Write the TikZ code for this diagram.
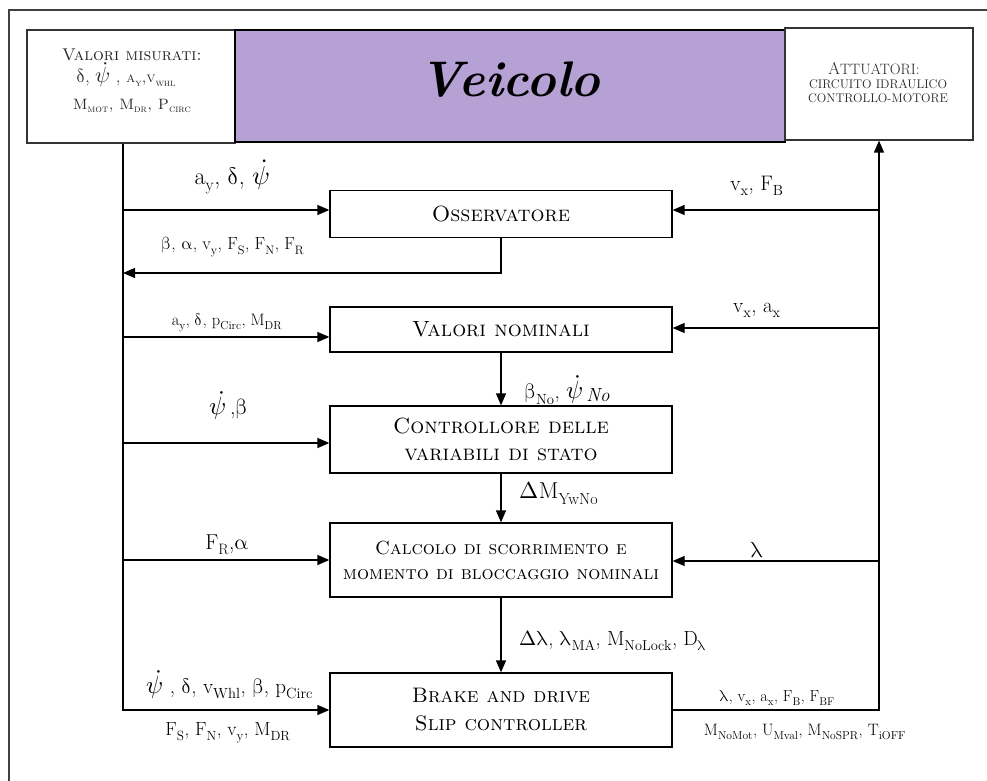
\documentclass[tikz,border=0pt]{standalone}
\usepackage{fontspec}
\usepackage{unicode-math}
\usetikzlibrary{arrows.meta}
\newcommand\G[1]{$\symup{#1}$}
\newcommand\sbs[1]{\textsubscript{#1}}
\newcommand\fsz[1]{\fontsize{#1}{#1}\selectfont}
\newcommand\pd{$\dot{\psi}$}
\definecolor{vpurple}{RGB}{181,161,212}
\begin{document}
\begin{tikzpicture}[x=1pt,y=-1pt,line width=1.3pt,
  blk/.style={draw,line width=1.3pt,inner sep=0pt,align=center,minimum width=342pt,font=\fontsize{22}{27}\selectfont\scshape},
  arr/.style={-{Triangle[length=12pt,width=10pt]}},
  lab/.style={inner sep=0pt,anchor=center}]
\useasboundingbox (0,0) rectangle (987,781);
\fill[white] (0,0) rectangle (987,781);
% outer frame (partial, as scanned)
\draw[line width=1.2pt,black!75] (9,781) -- (9,10) -- (987,10);
% top boxes
\node[draw,line width=1.2pt,black!80,minimum width=208pt,minimum height=113pt,inner sep=0pt] (misur) at (131,86.5) {};
\node[draw,line width=2pt,fill=vpurple,minimum width=550pt,minimum height=112pt,inner sep=0pt] (veic) at (510,86) {};
\node[draw,line width=1.2pt,black!80,minimum width=188pt,minimum height=112pt,inner sep=0pt] (attu) at (879,84) {};
\node[lab,font=\bfseries\itshape\fsz{50}] (veict) at (510,80) {Veicolo};
\node[lab,font=\fsz{17}\scshape,text=black!85] (mis1) at (132,55) {Valori misurati:};
\node[lab,font=\fsz{19},text=black!85] (mis2) at (126,75) {\G{δ}, {\fsz{22}\pd} , {\fsz{14.5}\scshape a\sbs{y},v\sbs{whl}}};
\node[lab,font=\fsz{15}\scshape,text=black!85] (mis3) at (132,106) {M\sbs{mot}, M\sbs{dr}, P\sbs{circ}};
\node[lab,font=\fsz{15},text=black!85] (att1) at (874,69) {{\fsz{17}A}TTUATORI:};
\node[lab,font=\fsz{12.5},text=black!85] (att2) at (878,84) {CIRCUITO IDRAULICO};
\node[lab,font=\fsz{12.5},text=black!85] (att3) at (878,98) {CONTROLLO-MOTORE};
% control blocks
\node[blk,minimum height=47pt] (oss) at (501,214) {Osservatore};
\node[blk,minimum height=45pt] (valnom) at (501,329.5) {Valori nominali};
\node[blk,minimum height=67pt] (ctrl) at (501,439.5) {Controllore delle\\variabili di stato};
\node[blk,minimum height=74pt,font=\fontsize{19}{25}\selectfont\scshape] (calc) at (501,560) {Calcolo di scorrimento e\\momento di bloccaggio nominali};
\node[blk,minimum height=74pt,font=\fontsize{21}{28}\selectfont\scshape] (brake) at (501,710) {Brake and drive\\Slip controller};
% buses
\coordinate (lbus) at (123,0);
\coordinate (rbus) at (880,0);
\draw[arr] (misur.south -| lbus) |- (brake.west);
\draw[arr] (brake.east) -| (attu.south);
% left inputs
\draw[arr] (lbus |- 0,210) -- (oss.west |- 0,210);
\draw[arr] (oss.south) |- (lbus |- 0,273);
\draw[arr] (lbus |- 0,337) -- (valnom.west |- 0,337);
\draw[arr] (lbus |- 0,443) -- (ctrl.west |- 0,443);
\draw[arr] (lbus |- 0,560) -- (calc.west |- 0,560);
% right inputs
\draw[arr] (rbus |- 0,210) -- (oss.east |- 0,210);
\draw[arr] (rbus |- 0,328) -- (valnom.east |- 0,328);
\draw[arr] (rbus |- 0,561) -- (calc.east |- 0,561);
% vertical flow
\draw[arr] (valnom.south) -- (ctrl.north);
\draw[arr] (ctrl.south) -- (calc.north);
\draw[arr] (calc.south) -- (brake.north);
% labels
\node[lab,font=\fsz{24}] (l1) at (232,177) {a\sbs{y}, \G{δ}, {\fsz{26}\pd}};
\node[lab,font=\fsz{17.5}] (l2) at (233,247) {\G{β}, \G{α}, v\sbs{y}, F\sbs{S}, F\sbs{N}, F\sbs{R}};
\node[lab,font=\fsz{16.5}] (l3) at (227,323) {a\sbs{y}, \G{δ}, p\sbs{Circ}, M\sbs{DR}};
\node[lab,font=\fsz{21}] (l4) at (757,186) {v\sbs{x}, F\sbs{B}};
\node[lab,font=\fsz{21}] (l5) at (757,310) {v\sbs{x}, a\sbs{x}};
\node[lab,font=\fsz{21}] (l6) at (567,390) {\G{β}\sbs{No}, {\fsz{25}\pd}\,\raisebox{-3pt}{\itshape\fsz{19}No}};
\node[lab,font=\fsz{22}] (l7) at (229,406) {{\fsz{25}\pd}\,,\G{β}};
\node[lab,font=\fsz{23}] (l8) at (559,493) {\G{Δ}M\sbs{YwNo}};
\node[lab,font=\fsz{21.5}] (l9) at (227,545) {F\sbs{R},\G{α}};
\node[lab,font=\fsz{22}] (l10) at (757,550) {\G{λ}};
\node[lab,font=\fsz{20.5}] (l11) at (613,641) {\G{Δλ}, \G{λ}\sbs{MA}, M\sbs{NoLock}, D\sbs{\G{λ}}};
\node[lab,font=\fsz{21}] (l12) at (230,685) {{\fsz{25}\pd} , \G{δ}, v\sbs{Whl}, \G{β}, p\sbs{Circ}};
\node[lab,font=\fsz{19}] (l13) at (228,733) {F\sbs{S}, F\sbs{N}, v\sbs{y}, M\sbs{DR}};
\node[lab,font=\fsz{16}] (l14) at (777,698) {\G{λ}, v\sbs{x}, a\sbs{x}, F\sbs{B}, F\sbs{BF}};
\node[lab,font=\fsz{16.5}] (l15) at (805,732) {M\sbs{NoMot}, U\sbs{Mval}, M\sbs{NoSPR}, T\sbs{iOFF}};
\end{tikzpicture}
\end{document}
